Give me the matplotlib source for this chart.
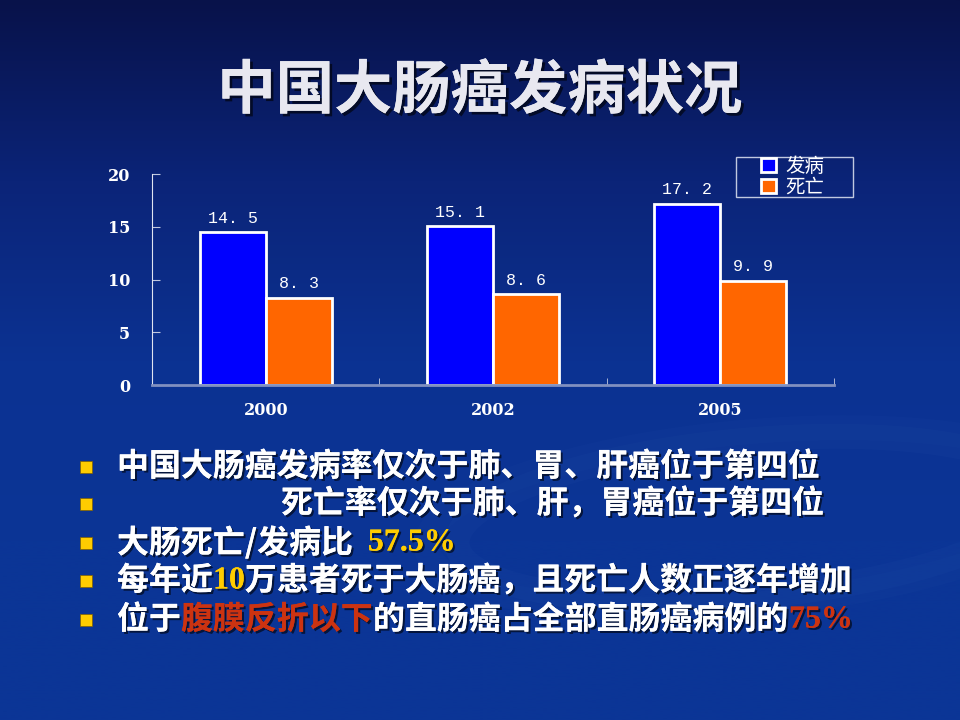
import numpy as np
import matplotlib.pyplot as plt
import matplotlib.patheffects as pe
from matplotlib.colors import LinearSegmentedColormap

plt.rcParams['font.family'] = ['Noto Sans CJK SC', 'DejaVu Sans']

# data
years = ['2000', '2002', '2005']
incidence = [14.5, 15.1, 17.2]
mortality = [8.3, 8.6, 9.9]
series_names = ['发病', '死亡']
y_ticks = [0, 5, 10, 15, 20]

title = '中国大肠癌发病状况'

fig = plt.figure(figsize=(9.6, 7.2), dpi=100)

# background gradient
bg = fig.add_axes([0, 0, 1, 1])
bg_cmap = LinearSegmentedColormap.from_list(
    'bg', ['#08124a', '#0b2478', '#0c3292', '#0b3596', '#0b3596'])
grad = np.linspace(0, 1, 256).reshape(-1, 1)
bg.imshow(grad, aspect='auto', cmap=bg_cmap, extent=[0, 1, 0, 1], origin='upper')
bg.set_xlim(0, 1)
bg.set_ylim(0, 1)
bg.axis('off')

# faint swoosh decoration
t = np.linspace(0, 2 * np.pi, 400)
for r, a in [(0.95, 0.10), (1.05, 0.07)]:
    bg.plot(0.78 + 0.32 * r * np.cos(t), 0.28 + 0.12 * r * np.sin(t + 0.3),
            color='#2a55b0', alpha=a, lw=18, solid_capstyle='round')

# legend frame (drawn by hand so the padding matches)
bg.add_patch(plt.Rectangle((736 / 960, 1 - 197 / 720), 117 / 960, 40 / 720,
                           facecolor='none', edgecolor='#c0c8e0', lw=1))

shadow = [pe.withSimplePatchShadow(offset=(2, -2), shadow_rgbFace='#000000', alpha=0.6), pe.Normal()]

fig.text(0.5, 0.873, title, ha='center', va='center', fontsize=42,
         fontweight='bold', color='#e8e8f0', path_effects=shadow)

# chart
ax = fig.add_axes([0.1585, 0.465, 0.71, 0.293])
ax.set_facecolor('none')
x = np.arange(len(years)) + 0.5
w = 0.29
b1 = ax.bar(x - w / 2, incidence, w, color='#0000ff', edgecolor='white', lw=2, label=series_names[0])
b2 = ax.bar(x + w / 2, mortality, w, color='#ff6600', edgecolor='white', lw=2, label=series_names[1])
for bars, vals in [(b1, incidence), (b2, mortality)]:
    for rect, v in zip(bars, vals):
        ax.text(rect.get_x() + rect.get_width() / 2, v + 0.6, '. '.join(str(v).split('.')),
                ha='center', va='bottom', color='white', fontsize=12,
                family=['Liberation Mono', 'DejaVu Sans'])

ax.set_xlim(0, 3)
ax.set_ylim(0, 20)
ax.set_yticks(y_ticks)
ax.set_xticks([0, 1, 2, 3], minor=True)
ax.set_xticks(x)
ax.set_xticklabels(years)
ax.tick_params(axis='x', which='major', length=0, pad=12)
ax.tick_params(axis='x', which='minor', length=5, direction='in', color='#c0c8e0')
ax.tick_params(axis='y', length=6, direction='in', color='#c0c8e0', pad=16)
for lbl in ax.get_xticklabels() + ax.get_yticklabels():
    lbl.set_color('white')
    lbl.set_fontweight('bold')
    lbl.set_fontsize(11.5)
    lbl.set_family(['DejaVu Serif', 'DejaVu Sans'])
for s in ['top', 'right']:
    ax.spines[s].set_visible(False)
ax.spines['left'].set_color('#e0e4f0')
ax.spines['bottom'].set_color('#8090c0')
ax.spines['bottom'].set_linewidth(2)

leg = fig.legend(handles=[b1, b2], loc='center left',
                 bbox_to_anchor=(761 / 960, 1 - 177 / 720), fontsize=14,
                 frameon=False, handlelength=0.75, handleheight=0.75,
                 borderpad=0, labelspacing=0.0, handletextpad=0.5, borderaxespad=0)
for txt in leg.get_texts():
    txt.set_color('white')

# bullet text
yellow = '#ffcc00'
red = '#cc3311'
lines = [
    [('中国大肠癌发病率仅次于肺、胃、肝癌位于第四位', 'white')],
    [('死亡率仅次于肺、肝，胃癌位于第四位', 'white')],
    [('大肠死亡/发病比  ', 'white'), ('57.5%', yellow)],
    [('每年近', 'white'), ('10', yellow), ('万患者死于大肠癌，且死亡人数正逐年增加', 'white')],
    [('位于', 'white'), ('腹膜反折以下', red), ('的直肠癌占全部直肠癌病例的', 'white'), ('75%', red)],
]
line_y = [467, 504, 543, 581, 620]
line_x0 = [117, 281, 117, 117, 117]
txt_shadow = [pe.withSimplePatchShadow(offset=(1.5, -1.5), shadow_rgbFace='#000000', alpha=0.6), pe.Normal()]

part_texts = []
for yy, x0, parts in zip(line_y, line_x0, lines):
    fy = 1 - yy / 720
    fig.patches.append(plt.Rectangle((80 / 960, fy - 6 / 720), 12 / 960, 12 / 720,
                                     transform=fig.transFigure, facecolor=yellow,
                                     edgecolor='#806000', lw=0.5))
    row = []
    for s, c in parts:
        is_num = s[0].isdigit()
        fam = ['Liberation Serif', 'DejaVu Serif'] if is_num else ['Noto Sans CJK SC', 'DejaVu Sans']
        row.append(fig.text(x0 / 960, fy, s, ha='left', va='center', fontsize=23,
                            fontweight='bold', color=c, family=fam, path_effects=txt_shadow))
    part_texts.append(row)

# chain the coloured pieces of each line one after another
fig.canvas.draw()
r = fig.canvas.get_renderer()
for yy, x0, row in zip(line_y, line_x0, part_texts):
    cur_x = x0
    for t in row:
        t.set_position((cur_x / 960, 1 - yy / 720))
        cur_x = t.get_window_extent(renderer=r).x1

fig.savefig('out.png', dpi=100)
